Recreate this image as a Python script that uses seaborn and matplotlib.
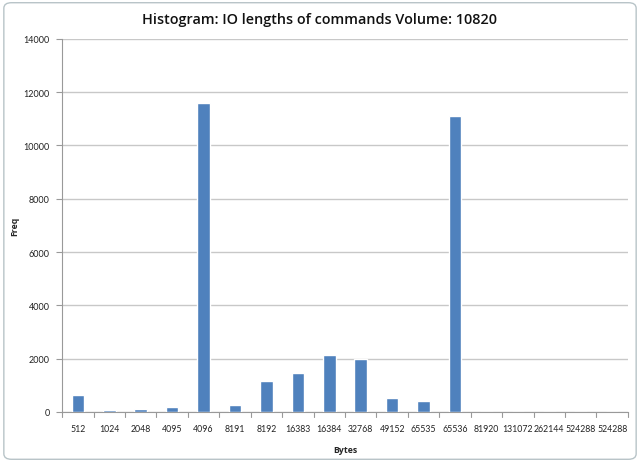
import matplotlib
matplotlib.use("Agg")
import matplotlib.pyplot as plt
import seaborn as sns
import pandas as pd
from matplotlib.patches import FancyBboxPatch

categories = ["512", "1024", "2048", "4095", "4096", "8191", "8192", "16383",
              "16384", "32768", "49152", "65535", "65536", "81920", "131072",
              "262144", "524288", "524288"]
freq = [630, 75, 126, 200, 11610, 277, 1180, 1470, 2125, 1975, 515, 430,
        11110, 0, 0, 0, 0, 0]
yticks = [0, 2000, 4000, 6000, 8000, 10000, 12000, 14000]

sns.set_theme(style="white")
plt.rcParams['font.family'] = ['Lato', 'DejaVu Sans']

fig = plt.figure(figsize=(6.4, 4.64), dpi=100)
fig.patch.set_facecolor("white")
border = FancyBboxPatch((0.006, 0.008), 0.988, 0.984,
                        boxstyle="round,pad=0,rounding_size=0.012",
                        transform=fig.transFigure, facecolor="white",
                        edgecolor="#b8c4c8", linewidth=1.0, zorder=-10)
fig.patches.append(border)

ax = fig.add_axes([0.097, 0.110, 0.884, 0.804])
df = pd.DataFrame({"pos": list(range(len(categories))), "freq": freq})
sns.barplot(data=df, x="pos", y="freq", color="#4F81BD", saturation=1,
            width=0.40, ax=ax, zorder=3)

ax.set_xlim(-0.5, len(categories) - 0.5)
ax.set_ylim(0, 14000)
ax.set_yticks(yticks)
ax.set_yticklabels([str(v) for v in yticks], fontsize=6.5, color="#222222")
ax.set_xticks(range(len(categories)))
ax.set_xticklabels(categories, fontsize=6.3, color="#222222")
ax.tick_params(axis="x", length=0, pad=9)
ax.tick_params(axis="y", length=4, width=0.8, color="#999999", pad=5, left=True)
# category separator ticks on x axis
for b in [i - 0.5 for i in range(len(categories) + 1)]:
    ax.plot([b, b], [0, -180], color="#999999", lw=0.8, clip_on=False, zorder=4)

ax.yaxis.grid(True, color="#c8c8c8", lw=1.0, zorder=0)
ax.set_axisbelow(True)
for s in ["top", "right"]:
    ax.spines[s].set_visible(False)
ax.spines["left"].set_color("#999999")
ax.spines["bottom"].set_color("#999999")
ax.spines["left"].set_linewidth(0.8)
ax.spines["bottom"].set_linewidth(0.8)

ax.set_xlabel("Bytes", fontsize=6.3, fontweight="bold", labelpad=8,
              family=["Open Sans", "DejaVu Sans"])
ax.set_ylabel("Freq", fontsize=6.3, fontweight="bold",
              family=["Open Sans", "DejaVu Sans"])
ax.yaxis.set_label_coords(-0.075, 0.5)
fig.suptitle("Histogram: IO lengths of commands Volume: 10820",
             fontsize=10.4, y=0.972, color="#111111", fontweight="semibold",
             family=["Open Sans", "DejaVu Sans"])

fig.savefig("out.png", dpi=100)
